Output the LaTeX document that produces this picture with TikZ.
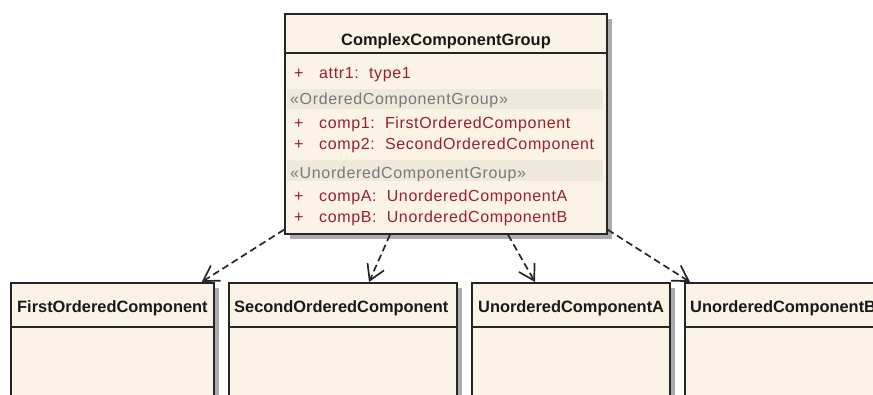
\documentclass[tikz,border=0pt]{standalone}
\usepackage{fontspec}
\setmainfont{Liberation Sans}
\newfontfamily\umlfont[LetterSpace=4]{Liberation Sans}
\newfontfamily\umlboldfont{Liberation Sans Bold}
\usetikzlibrary{arrows.meta,calc}
\definecolor{boxfill}{RGB}{251,243,229}
\definecolor{bandfill}{RGB}{239,233,220}
\definecolor{attrred}{RGB}{155,30,45}
\definecolor{stereogray}{RGB}{120,120,120}
\definecolor{shadowgray}{RGB}{172,172,172}
\begin{document}
\begin{tikzpicture}[x=1pt,y=-1pt,
  classbox/.style={rectangle, draw=black!85, line width=1.7pt, fill=boxfill,
    inner sep=0pt, anchor=north west,
    preaction={fill=shadowgray, transform canvas={shift={(5pt,-5pt)}}}},
  rule/.style={draw=black!85, line width=1.5pt},
  band/.style={fill=bandfill},
  umltext/.style={inner sep=0pt, anchor=base west, font=\umlfont\fontsize{16}{19}\selectfont},
  classname/.style={umltext, font=\umlboldfont\fontsize{16.4}{19}\selectfont, text=black!90},
  member/.style={umltext, text=attrred},
  stereo/.style={umltext, text=stereogray},
  dep/.style={draw=black!85, line width=1.7pt, dash pattern=on 7pt off 4pt,
    -{Straight Barb[length=15pt,width=18pt]}}
]
\useasboundingbox (0,0) rectangle (873,394);
\fill[white] (0,0) rectangle (873,394);
\clip (0,0) rectangle (873,394);

% composite class with its attribute compartments
\node[classbox, minimum width=322pt, minimum height=220pt] (top) at (284,13) {};
\fill[band] (287,89) rectangle (603,109);
\fill[band] (287,160) rectangle (603,181);
\draw[rule] ($(top.north west)+(0,40)$) -- ($(top.north east)+(0,40)$);
\node[classname, anchor=base] (topname) at (446,45) {ComplexComponentGroup};

\node[member] (p1) at (294,78) {+};
\node[member] (m1) at (319,78) {attr1:\ \ type1};
\node[stereo] (s1) at (290,104) {«OrderedComponentGroup»};
\node[member] (p2) at (294,128) {+};
\node[member] (m2) at (319,128) {comp1:\ \ FirstOrderedComponent};
\node[member] (p3) at (294,149) {+};
\node[member] (m3) at (319,149) {comp2:\ \ SecondOrderedComponent};
\node[stereo] (s2) at (290,178) {«UnorderedComponentGroup»};
\node[member] (p4) at (294,201) {+};
\node[member] (m4) at (319,201) {compA:\ \ UnorderedComponentA};
\node[member] (p5) at (294,222) {+};
\node[member] (m5) at (319,222) {compB:\ \ UnorderedComponentB};

% component classes
\node[classbox, minimum width=203pt, minimum height=150pt] (b1) at (10,282) {};
\node[classbox, minimum width=228pt, minimum height=150pt] (b2) at (228,282) {};
\node[classbox, minimum width=198pt, minimum height=150pt] (b3) at (471,282) {};
\node[classbox, minimum width=230pt, minimum height=150pt] (b4) at (684,282) {};
\foreach \b in {b1,b2,b3,b4}
  \draw[rule] ($(\b.north west)+(0,45)$) -- ($(\b.north east)+(0,45)$);
\node[classname] (n1) at (17,312) {FirstOrderedComponent};
\node[classname] (n2) at (234,312) {SecondOrderedComponent};
\node[classname] (n3) at (478,312) {UnorderedComponentA};
\node[classname] (n4) at (690,312) {UnorderedComponentB};

% dependencies
\draw[dep] ([yshift=5pt]top.south west) -- ([xshift=-13pt]b1.north east);
\draw[dep] ([xshift=106pt]top.south west) -- ([xshift=141pt]b2.north west);
\draw[dep] ([xshift=224pt]top.south west) -- ([xshift=64pt]b3.north west);
\draw[dep] ([yshift=5pt]top.south east) -- ([xshift=6pt]b4.north west);
\end{tikzpicture}
\end{document}
